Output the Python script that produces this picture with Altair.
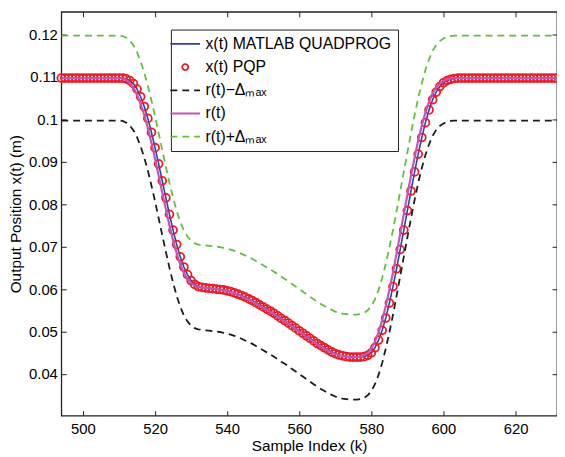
import altair as alt
import pandas as pd

# ---------------- data ----------------
K_FIRST = 494
K_LAST = 632
DELTA_MAX = 0.01

# x(t) from MATLAB QUADPROG (PQP circles lie on the same values)
X_HEAD = [0.1097] * 17          # k = 494 .. 510
X_MID = [                        # k = 511 .. 603
    0.1097, 0.1095, 0.1091, 0.1084, 0.1071, 0.1053, 0.1030, 0.1002, 0.0969, 0.0933,
    0.0895, 0.0855, 0.0815, 0.0776, 0.0739, 0.0705, 0.0676, 0.0652, 0.0634, 0.0620,
    0.0611, 0.0606, 0.0604, 0.0603, 0.0602, 0.0601, 0.0600, 0.0599, 0.0598, 0.0596,
    0.0594, 0.0591, 0.0588, 0.0585, 0.0581, 0.0577, 0.0573, 0.0568, 0.0563, 0.0558,
    0.0553, 0.0548, 0.0543, 0.0537, 0.0531, 0.0526, 0.0520, 0.0514, 0.0508, 0.0502,
    0.0496, 0.0490, 0.0484, 0.0478, 0.0472, 0.0467, 0.0462, 0.0457, 0.0452, 0.0448,
    0.0445, 0.0443, 0.0441, 0.0440, 0.0440, 0.0440, 0.0440, 0.0441, 0.0444, 0.0450,
    0.0462, 0.0480, 0.0503, 0.0532, 0.0567, 0.0606, 0.0648, 0.0693, 0.0739, 0.0785,
    0.0831, 0.0876, 0.0918, 0.0957, 0.0992, 0.1022, 0.1046, 0.1064, 0.1077, 0.1086,
    0.1091, 0.1094, 0.1096,
]
X_TAIL = [0.1097] * 29          # k = 604 .. 632

# reference r(t)
R_HEAD = [0.1097] * 17
R_MID = [
    0.1096, 0.1092, 0.1085, 0.1074, 0.1058, 0.1036, 0.1010, 0.0979, 0.0944, 0.0907,
    0.0867, 0.0827, 0.0788, 0.0750, 0.0715, 0.0684, 0.0658, 0.0638, 0.0624, 0.0614,
    0.0608, 0.0605, 0.0604, 0.0603, 0.0602, 0.0601, 0.0600, 0.0599, 0.0597, 0.0595,
    0.0593, 0.0590, 0.0587, 0.0583, 0.0579, 0.0575, 0.0571, 0.0566, 0.0561, 0.0556,
    0.0551, 0.0546, 0.0541, 0.0535, 0.0529, 0.0524, 0.0518, 0.0512, 0.0506, 0.0500,
    0.0494, 0.0488, 0.0482, 0.0476, 0.0470, 0.0465, 0.0460, 0.0455, 0.0451, 0.0447,
    0.0444, 0.0442, 0.0441, 0.0440, 0.0440, 0.0440, 0.0441, 0.0444, 0.0450, 0.0460,
    0.0476, 0.0498, 0.0526, 0.0560, 0.0598, 0.0639, 0.0684, 0.0730, 0.0776, 0.0822,
    0.0867, 0.0910, 0.0950, 0.0985, 0.1016, 0.1041, 0.1061, 0.1075, 0.1084, 0.1090,
    0.1094, 0.1096, 0.1097,
]
R_TAIL = [0.1097] * 29

X_TICKS = [500, 520, 540, 560, 580, 600, 620]
Y_TICKS = [0.04, 0.05, 0.06, 0.07, 0.08, 0.09, 0.1, 0.11, 0.12]

L_QP = "x(t) MATLAB QUADPROG"
L_PQP = "x(t) PQP"
L_LO = "r(t)\u2212\u0394\u2098\u2090\u2093"
L_R = "r(t)"
L_HI = "r(t)+\u0394\u2098\u2090\u2093"
LABELS = [L_QP, L_PQP, L_LO, L_R, L_HI]
COLORS = ["#2b40b4", "#ec1c24", "#1c1c1c", "#c256b8", "#62c03a"]
DASHES = [[1, 0], [1, 0], [7, 5], [1, 0], [7, 5]]
LINE_PATH = "M-2,0H2"
CIRCLE_PATH = "M-0.4,0A0.4,0.4,0,1,1,0.4,0A0.4,0.4,0,1,1,-0.4,0Z"
SHAPES = [LINE_PATH, CIRCLE_PATH, LINE_PATH, LINE_PATH, LINE_PATH]

# ---------------- table ----------------
ks = list(range(K_FIRST, K_LAST + 1))
x_qp = X_HEAD + X_MID + X_TAIL
r = R_HEAD + R_MID + R_TAIL
assert len(x_qp) == len(ks) and len(r) == len(ks)
r_lo = [round(v - DELTA_MAX, 5) for v in r]
r_hi = [round(v + DELTA_MAX, 5) for v in r]

rows = []
for name, vals in [(L_QP, x_qp), (L_PQP, x_qp), (L_LO, r_lo), (L_R, r), (L_HI, r_hi)]:
    for k, v in zip(ks, vals):
        rows.append({"k": k, "value": v, "series": name})
df = pd.DataFrame(rows)

FONT = "Liberation Sans"
XDOM = [494, 631.5]
YDOM = [0.0302, 0.1253]

xscale = alt.Scale(domain=XDOM, nice=False, zero=False)
yscale = alt.Scale(domain=YDOM, nice=False, zero=False)

axis_common = dict(offset=-5, tickSize=5, domain=False, grid=False,
                   tickColor="#222222", tickWidth=1)

x_bottom = alt.X("k:Q", scale=xscale, axis=alt.Axis(
    orient="bottom", values=X_TICKS, format="d", labelPadding=6,
    labelFont=FONT, labelFontSize=15, labelColor="black",
    title="Sample Index (k)", titleFont=FONT, titleFontSize=15.5,
    titleFontWeight="normal", titleColor="black", titlePadding=2, **axis_common))
y_left = alt.Y("value:Q", scale=yscale, axis=alt.Axis(
    orient="left", values=Y_TICKS, format="~g", labelPadding=4,
    labelFont=FONT, labelFontSize=15, labelColor="black",
    title="Output Position x(t) (m)", titleFont=FONT, titleFontSize=15.5,
    titleFontWeight="normal", titleColor="black", titlePadding=5, **axis_common))
x_top = alt.X("k:Q", scale=xscale, axis=alt.Axis(
    orient="top", values=X_TICKS, labels=False, title=None, **axis_common))
y_right = alt.Y("value:Q", scale=yscale, axis=alt.Axis(
    orient="right", values=Y_TICKS, labels=False, title=None, **axis_common))
x_none = alt.X("k:Q", scale=xscale, axis=None)
y_none = alt.Y("value:Q", scale=yscale, axis=None)

color = alt.Color("series:N", title=None,
                  scale=alt.Scale(domain=LABELS, range=COLORS),
                  legend=alt.Legend(orient="none", legendX=111, legendY=18,
                                    strokeColor="#222222", fillColor="white",
                                    padding=6, rowPadding=6.5, labelOffset=12,
                                    labelFont=FONT, labelFontSize=16,
                                    labelColor="black", symbolSize=225,
                                    symbolStrokeWidth=1.8, labelLimit=400))
dash = alt.StrokeDash("series:N", title=None,
                      scale=alt.Scale(domain=LABELS, range=DASHES))
shape = alt.Shape("series:N", title=None,
                  scale=alt.Scale(domain=LABELS, range=SHAPES))

base = alt.Chart(df)

line_qp = base.transform_filter(alt.datum.series == L_QP).mark_line(
    clip=True, strokeWidth=1.6).encode(x=x_bottom, y=y_left, color=color, strokeDash=dash)
pts = base.transform_filter(
    (alt.datum.series == L_PQP) & (alt.datum.k <= XDOM[1])).mark_point(
    filled=False, size=400, strokeWidth=1.8, opacity=1).encode(
    x=x_none, y=y_none, color=color, shape=shape)
line_lo = base.transform_filter(alt.datum.series == L_LO).mark_line(
    clip=True, strokeWidth=1.8).encode(x=x_top, y=y_right, color=color, strokeDash=dash)
line_r = base.transform_filter(alt.datum.series == L_R).mark_line(
    clip=True, strokeWidth=2.2).encode(x=x_none, y=y_none, color=color, strokeDash=dash)
line_hi = base.transform_filter(alt.datum.series == L_HI).mark_line(
    clip=True, strokeWidth=1.8).encode(x=x_none, y=y_none, color=color, strokeDash=dash)

chart = alt.layer(line_qp, pts, line_lo, line_r, line_hi).properties(
    width=502, height=409,
    autosize=alt.AutoSizeParams(type="none"),
    padding={"left": 54, "top": 1, "right": 0, "bottom": 38},
).configure(font=FONT).configure_view(stroke="#222222", strokeWidth=1.3)

chart.save("out.html", embed_options={"renderer": "svg", "actions": False})
